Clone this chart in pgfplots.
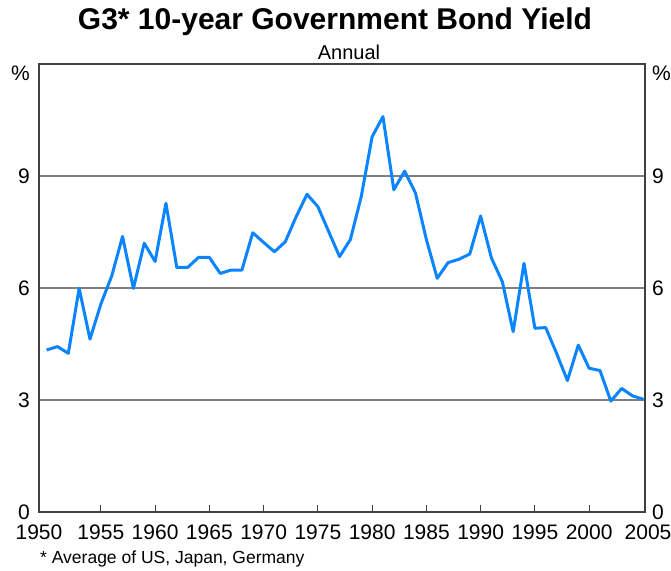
\documentclass[border=0pt]{standalone}
\usepackage{pgfplots}
\pgfplotsset{compat=1.18}
\usepackage{fontspec}
\setmainfont{Liberation Sans}
\definecolor{lineblue}{RGB}{10,132,255}
\definecolor{gridgray}{RGB}{128,128,128}
\pgfplotstableread{
year value
1950 4.34
1951 4.43
1952 4.25
1953 5.99
1954 4.63
1955 5.57
1956 6.32
1957 7.38
1958 5.99
1959 7.20
1960 6.71
1961 8.27
1962 6.55
1963 6.55
1964 6.82
1965 6.82
1966 6.39
1967 6.48
1968 6.48
1969 7.48
1970 7.22
1971 6.97
1972 7.24
1973 7.91
1974 8.51
1975 8.18
1976 7.51
1977 6.84
1978 7.30
1979 8.45
1980 10.05
1981 10.59
1982 8.63
1983 9.13
1984 8.54
1985 7.30
1986 6.26
1987 6.68
1988 6.77
1989 6.91
1990 7.93
1991 6.80
1992 6.17
1993 4.83
1994 6.66
1995 4.92
1996 4.94
1997 4.25
1998 3.52
1999 4.47
2000 3.85
2001 3.79
2002 2.97
2003 3.31
2004 3.11
2005 3.02
}\yields
\begin{document}
\begin{tikzpicture}[x=1pt,y=1pt]
\path[use as bounding box] (-39,-58) rectangle (632,512);
\pgfplotsset{
  g3base/.style={
    at={(0,0)}, anchor=south west,
    scale only axis, width=606pt, height=448pt,
    xmin=1949.3, xmax=2005.15, ymin=0, ymax=12,
    ytick={0,3,6,9},
    tick label style={font=\fontsize{21}{21}\selectfont},
    /pgf/number format/assume math mode=true,
  }
}
\begin{axis}[
  g3base,
  axis line style={draw=darkgray, line width=2pt},
  xtick={1955,1960,...,2000},
  xticklabels={1955,1960,1965,1970,1975,1980,1985,1990,1995,2000},
  extra x ticks={1949.3,2005.15},
  extra x tick labels={1950,\hspace*{6pt}2005},
  extra x tick style={major tick length=0pt},
  xtick pos=left,
  major x tick style={draw=darkgray, line width=1.2pt},
  major tick length=7pt,
  ytick style={draw=none},
  ytick pos=left,
  yticklabel pos=left,
  ymajorgrids,
  grid style={gridgray, line width=1.4pt},
  x tick label style={inner sep=0pt, yshift=-13pt},
  y tick label style={inner sep=0pt, xshift=-9pt},
]
\addplot[lineblue, line width=3pt, line join=round] table[x=year, y=value] {\yields};
\end{axis}
\begin{axis}[
  g3base,
  axis x line=none,
  axis y line*=right,
  axis line style={draw=none},
  ytick style={draw=none},
  yticklabel pos=right,
  y tick label style={inner sep=0pt, xshift=7pt},
]
\end{axis}
\draw[draw=darkgray, line width=2pt] (0,0) rectangle (606,448);
\node[anchor=north east, inner sep=0pt, font=\fontsize{21}{21}\selectfont] at (-9,446) {\%};
\node[anchor=north west, inner sep=0pt, font=\fontsize{21}{21}\selectfont] at (613,446) {\%};
\node[anchor=base, font=\bfseries\fontsize{30}{30}\selectfont] at (296,482) {G3* 10-year Government Bond Yield};
\node[anchor=base, font=\fontsize{20}{20}\selectfont] at (310,452) {Annual};
\node[anchor=base west, inner sep=0pt, font=\fontsize{17.5}{17.5}\selectfont] at (1,-51) {* Average of US, Japan, Germany};
\end{tikzpicture}
\end{document}
